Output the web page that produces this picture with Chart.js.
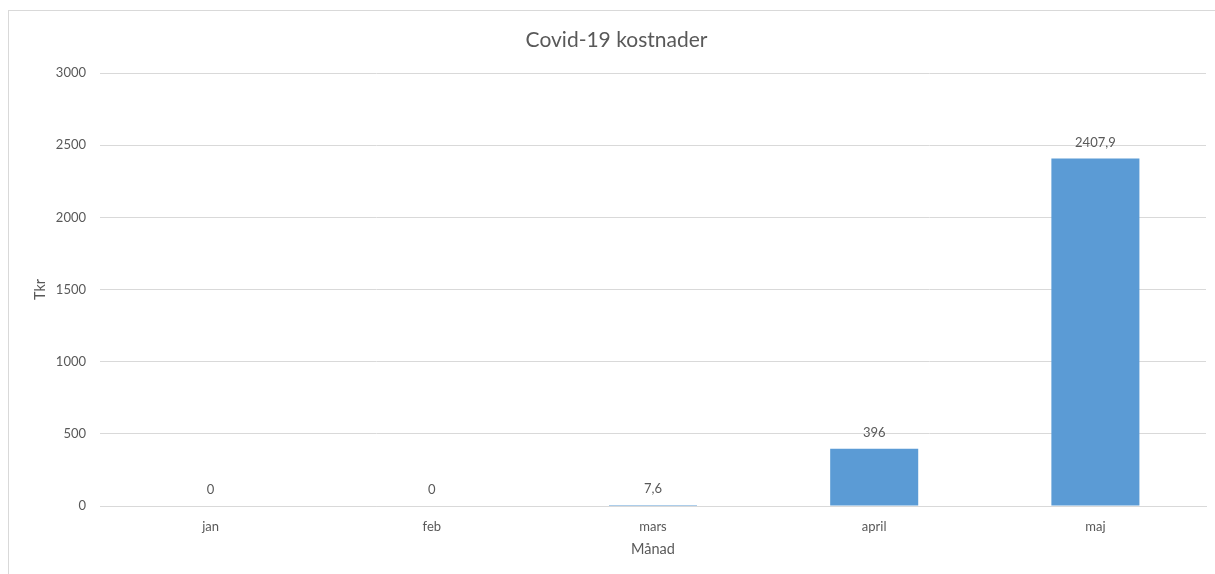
<!DOCTYPE html>
<html>
<head>
<meta charset="utf-8">
<script src="https://cdn.jsdelivr.net/npm/chart.js@4/dist/chart.umd.min.js"></script>
<style>
  html, body { margin: 0; padding: 0; background: #ffffff; overflow: hidden; }
  #frame { position: absolute; left: 8px; top: 10px; width: 1230px; height: 600px; border: 1px solid #D9D9D9; box-sizing: border-box; }
  #wrap { position: absolute; left: 0; top: 0; width: 1215px; height: 574px; }
</style>
</head>
<body>
<div id="frame"></div>
<div id="wrap"><canvas id="c" width="1215" height="574"></canvas></div>
<script>
const categories = ['jan', 'feb', 'mars', 'april', 'maj'];
const costs = [0, 0, 7.6, 396, 2407.9];
const yTicks = [0, 500, 1000, 1500, 2000, 2500, 3000];

const FONT = 'Lato, "Open Sans", sans-serif';
const TEXT = '#595959';
const GRID = '#D9D9D9';

const labelPlugin = {
  id: 'barLabels',
  afterDatasetsDraw(chart) {
    const ctx = chart.ctx;
    const meta = chart.getDatasetMeta(0);
    ctx.save();
    ctx.font = '13px ' + FONT;
    ctx.fillStyle = TEXT;
    ctx.textAlign = 'center';
    ctx.textBaseline = 'middle';
    meta.data.forEach((bar, i) => {
      const txt = String(costs[i]).replace('.', ',');
      ctx.fillText(txt, bar.x, bar.y - 16);
    });
    ctx.restore();
  }
};

new Chart(document.getElementById('c'), {
  type: 'bar',
  data: {
    labels: categories,
    datasets: [{
      data: costs,
      backgroundColor: '#5B9BD5',
      borderWidth: 0,
      categoryPercentage: 1.0,
      barPercentage: 0.398
    }]
  },
  options: {
    responsive: false,
    animation: false,
    devicePixelRatio: 1,
    layout: { padding: { left: 27, right: 9, top: 0, bottom: 0 } },
    plugins: {
      legend: { display: false },
      tooltip: { enabled: false },
      title: {
        display: true,
        text: 'Covid-19 kostnader',
        color: TEXT,
        font: { family: FONT, size: 21, weight: 'normal', lineHeight: 1.2 },
        padding: { top: 27.5, bottom: 20.3 }
      }
    },
    scales: {
      x: {
        grid: { display: false, drawTicks: false },
        border: { display: true, color: GRID, width: 1 },
        ticks: { color: TEXT, font: { family: FONT, size: 13 }, padding: 13 },
        title: {
          display: true, text: 'Månad', color: TEXT,
          font: { family: FONT, size: 14.5, lineHeight: 1.2 },
          padding: { top: 0, bottom: 16 }
        },
        afterFit(scale) { scale.height = 68; }
      },
      y: {
        min: 0, max: 3000,
        afterBuildTicks(scale) { scale.ticks = yTicks.map(v => ({ value: v })); },
        grid: { color: GRID, lineWidth: 1, drawTicks: false },
        border: { display: false },
        ticks: {
          color: TEXT, font: { family: FONT, size: 13 }, padding: 14,
          callback: (v) => String(v)
        },
        title: {
          display: true, text: 'Tkr', color: TEXT,
          font: { family: FONT, size: 14.5, lineHeight: 1.2 },
          padding: { top: 5, bottom: 0 }
        },
        afterFit(scale) { scale.width = 73; }
      }
    }
  },
  plugins: [labelPlugin]
});
</script>
</body>
</html>
